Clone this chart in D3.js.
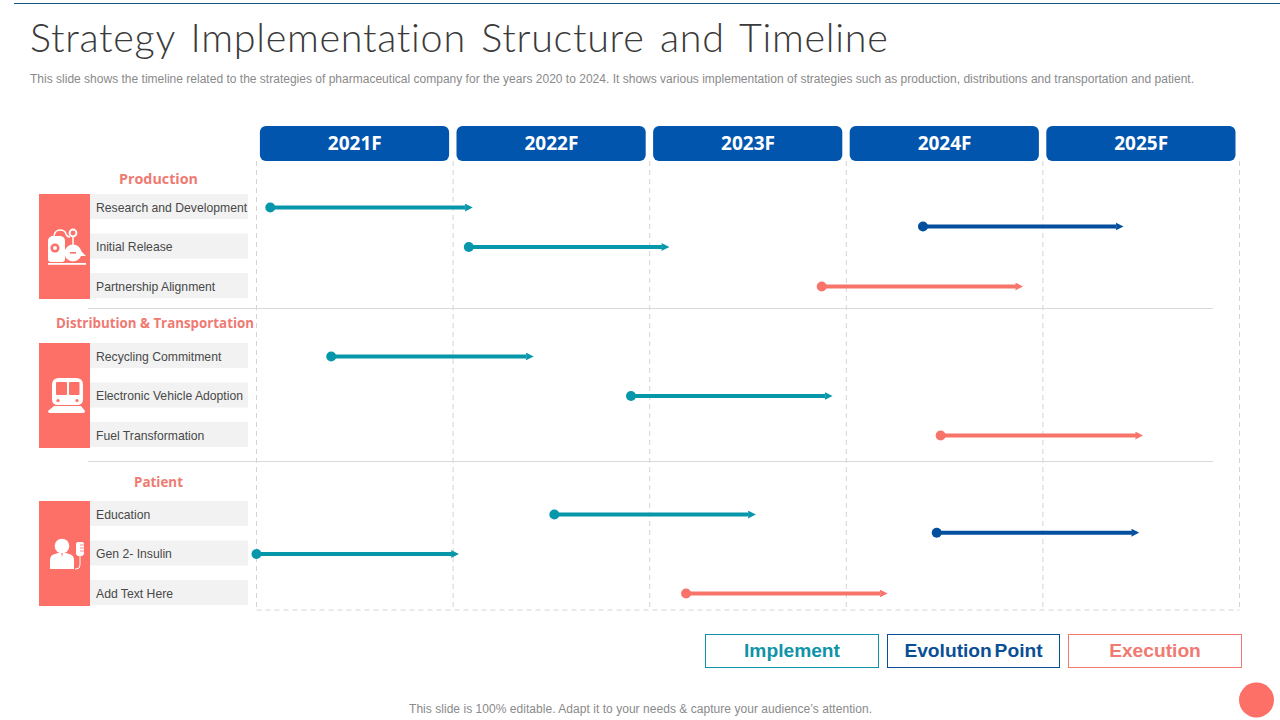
<!DOCTYPE html>
<html>
<head>
<meta charset="utf-8">
<script src="https://cdn.jsdelivr.net/npm/d3@7"></script>
<style>
  html, body { margin: 0; padding: 0; background: #fff; }
  svg { display: block; }
  text { font-family: "Liberation Sans", Arial, sans-serif; }
</style>
</head>
<body>
<div id="graph"></div>
<script>
var TITLE = "Strategy Implementation Structure and Timeline";
var SUBTITLE = "This slide shows the timeline related to the strategies of pharmaceutical company for the years 2020 to 2024. It shows various implementation of strategies such as production, distributions and transportation and patient.";
var FOOTER = "This slide is 100% editable. Adapt it to your needs & capture your audience\u2019s attention.";

var years = [2021, 2022, 2023, 2024, 2025];
var yearLabels = ["2021F", "2022F", "2023F", "2024F", "2025F"];

var groupNames = ["Production", "Distribution & Transportation", "Patient"];
var rowLabels = [
  ["Research and Development", "Initial Release", "Partnership Alignment"],
  ["Recycling Commitment", "Electronic Vehicle Adoption", "Fuel Transformation"],
  ["Education", "Gen 2- Insulin", "Add Text Here"]
];

// group, lane (0-2, .5 sits between two rows), start, end, type
var barGroup = [0, 0, 0, 0, 1, 1, 1, 2, 2, 2, 2];
var barLane  = [0, 1, 2, 0.48, 0, 1, 2, 0, 1, 2, 0.46];
var barStart = [2021.07, 2022.08, 2023.875, 2024.39, 2021.38, 2022.905, 2024.48, 2022.515, 2021.00, 2023.185, 2024.46];
var barEnd   = [2022.10, 2023.10, 2024.90, 2025.41, 2022.41, 2023.93, 2025.51, 2023.54, 2022.03, 2024.21, 2025.49];
var barType  = ["Implement", "Implement", "Execution", "Evolution Point", "Implement", "Implement", "Execution", "Implement", "Implement", "Execution", "Evolution Point"];

var legendLabels = ["Implement", "Evolution Point", "Execution"];
var legendColors = ["#0f93a8", "#0a4f96", "#f07a72"];

var CORAL = "#fd7068";
var SECTION = "#ef7a72";
var BLUE = "#0255ad";
var WIDTH = 1280, HEIGHT = 720;

var svg = d3.select("#graph").append("svg").attr("width", WIDTH).attr("height", HEIGHT);

var x = d3.scaleLinear().domain([2021, 2026]).range([256.5, 1239.5]);
var color = d3.scaleOrdinal().domain(legendLabels).range(["#0797ab", "#034f9e", "#f8746b"]);

// one lane scale per group, since the gaps differ a little
var laneScales = [
  d3.scaleLinear().domain([0, 2]).range([207.5, 286.5]),
  d3.scaleLinear().domain([0, 2]).range([356.5, 435.5]),
  d3.scaleLinear().domain([0, 2]).range([514.5, 593.5])
];
var blockTops = [194, 343, 501];
var blockH = 105;

/* header */
svg.append("rect").attr("x", 14).attr("y", 3).attr("width", 1266).attr("height", 1).attr("fill", "#13597f");

svg.append("text").attr("x", 30).attr("y", 52)
  .style("font-family", "Lato").style("font-weight", 300).style("font-size", "39.5px")
  .style("letter-spacing", "0.72px").style("word-spacing", "4px").attr("fill", "#3a3a3a").text(TITLE);

svg.append("text").attr("x", 30).attr("y", 83)
  .style("font-size", "12px").attr("fill", "#8a8a8a")
  .attr("textLength", 1164).attr("lengthAdjust", "spacing").text(SUBTITLE);

/* grid */
var gridTop = 161, gridBottom = 610;
var grid = svg.append("g").attr("stroke", "#d4d4d4").attr("stroke-dasharray", "5 4").attr("fill", "none");
grid.selectAll("line.v").data(years.concat([2026])).enter().append("line")
  .attr("class", "v")
  .attr("x1", function(d){ return x(d); }).attr("x2", function(d){ return x(d); })
  .attr("y1", gridTop).attr("y2", gridBottom);
grid.append("line").attr("x1", x(2021)).attr("x2", x(2026)).attr("y1", gridBottom).attr("y2", gridBottom);

/* group separators */
svg.selectAll("line.sep").data([308.5, 461.5]).enter().append("line")
  .attr("class", "sep").attr("x1", 88).attr("x2", 1213)
  .attr("y1", function(d){ return d; }).attr("y2", function(d){ return d; })
  .attr("stroke", "#d9d9d9");

/* year pills */
var pills = svg.selectAll("g.year").data(years).enter().append("g").attr("class", "year");
pills.append("rect")
  .attr("x", function(d){ return x(d) + 3.4; })
  .attr("y", 126)
  .attr("width", function(d){ return x(d + 1) - x(d) - 7.4; })
  .attr("height", 35).attr("rx", 6).attr("fill", BLUE);
pills.append("text")
  .attr("x", function(d){ return (x(d) + x(d + 1)) / 2; })
  .attr("y", 150).attr("text-anchor", "middle").attr("fill", "#fff")
  .style("font-family", "'Open Sans'").style("font-weight", 700).style("font-size", "19px")
  .text(function(d, i){ return yearLabels[i]; });

/* left hand groups */
var sectionWidths = [79, 198, 49];
var sectionOffsets = [10.5, 15.5, 14.5];
var groups = svg.selectAll("g.group").data(groupNames).enter().append("g").attr("class", "group");
groups.append("rect")
  .attr("x", 39).attr("y", function(d, i){ return blockTops[i]; })
  .attr("width", 51).attr("height", blockH).attr("fill", CORAL);
groups.append("text")
  .attr("x", function(d, i){ return i == 1 ? 155 : 158.5; })
  .attr("y", function(d, i){ return blockTops[i] - sectionOffsets[i]; })
  .attr("text-anchor", "middle").attr("fill", SECTION)
  .attr("textLength", function(d, i){ return sectionWidths[i]; })
  .attr("lengthAdjust", "spacingAndGlyphs")
  .style("font-family", "'Open Sans'").style("font-weight", 700).style("font-size", "14.5px")
  .text(function(d){ return d; });

groups.each(function(name, g){
  var rows = d3.select(this).selectAll("g.row").data(rowLabels[g]).enter().append("g").attr("class", "row");
  rows.append("rect").attr("x", 90).attr("width", 158).attr("height", 25)
    .attr("y", function(d, i){ return laneScales[g](i) - 13.5; })
    .attr("fill", "#f2f2f2");
  rows.append("text").attr("x", 96)
    .attr("y", function(d, i){ return laneScales[g](i) + 4; })
    .attr("fill", "#484848").style("font-size", "12.2px")
    .text(function(d){ return d; });
});

/* icons, white line art on the coral blocks */
function drawProductionIcon(g){
  g.append("path").attr("fill", "#fff").attr("d", "M48 241 q0 -4 4 -5 h9 q4 1 4 5 v18 q0 3 -3 3 h-11 q-3 0 -3 -3 z");
  g.append("circle").attr("cx", 55).attr("cy", 248).attr("r", 4.5).attr("fill", CORAL);
  g.append("circle").attr("cx", 55).attr("cy", 248).attr("r", 2).attr("fill", "#fff");
  g.append("circle").attr("cx", 73).attr("cy", 253).attr("r", 8.5).attr("fill", "#fff");
  g.append("rect").attr("x", 70).attr("y", 252).attr("width", 6).attr("height", 1.6).attr("fill", CORAL);
  g.append("path").attr("fill", "none").attr("stroke", "#fff").attr("stroke-width", 1.5)
    .attr("d", "M54 236 q1 -6 6 -6 q5 0 6 4 q1 3 4 3 M73 237 v8");
  g.append("circle").attr("cx", 73).attr("cy", 233).attr("r", 3.4).attr("fill", "none").attr("stroke", "#fff").attr("stroke-width", 2);
  g.append("path").attr("fill", "#fff").attr("d", "M81 251 l5 5 h-5 z");
  g.append("rect").attr("x", 48).attr("y", 263).attr("width", 38).attr("height", 1.8).attr("fill", "#fff");
}
function drawTrainIcon(g){
  g.append("path").attr("fill", "#fff").attr("d", "M59 378 h17 q7 0 7 7 v14 q0 6 -6 6 h-19 q-6 0 -6 -6 v-14 q0 -7 7 -7 z");
  g.append("rect").attr("x", 56).attr("y", 382).attr("width", 11).attr("height", 13).attr("rx", 1).attr("fill", CORAL);
  g.append("rect").attr("x", 69).attr("y", 382).attr("width", 10.5).attr("height", 13).attr("rx", 1).attr("fill", CORAL);
  g.append("circle").attr("cx", 58).attr("cy", 400.5).attr("r", 1.6).attr("fill", CORAL);
  g.append("circle").attr("cx", 77).attr("cy", 400.5).attr("r", 1.6).attr("fill", CORAL);
  g.append("path").attr("fill", "#fff").attr("d", "M54 406 h27 l4 5 q0 2 -2 2 h-33 q-2 0 -2 -2 z");
}
function drawPatientIcon(g){
  g.append("circle").attr("cx", 62).attr("cy", 546).attr("r", 7.3).attr("fill", "#fff");
  g.append("path").attr("fill", "#fff").attr("d", "M50 569 v-9 q0 -5 5 -6 l6 -2 l1 5 l1 -5 l6 2 q5 1 5 6 v9 z");
  g.append("path").attr("fill", "#fff").attr("d", "M78 542 h4 q2 0 2 2 v9 q0 3 -3 3 h-2 q-3 0 -3 -3 v-9 q0 -2 2 -2 z");
  g.append("path").attr("fill", "none").attr("stroke", CORAL).attr("stroke-width", 0.8)
    .attr("d", "M80 545 h4 M80 548 h4 M80 551 h4");
  g.append("path").attr("fill", "none").attr("stroke", "#fff").attr("stroke-width", 1)
    .attr("d", "M80 556 v9 q0 4 -4 4 h-1");
}
drawProductionIcon(svg.append("g"));
drawTrainIcon(svg.append("g"));
drawPatientIcon(svg.append("g"));

/* timeline arrows */
var defs = svg.append("defs");
legendLabels.forEach(function(t, i){
  defs.append("marker").attr("id", "arrow" + i)
    .attr("viewBox", "0 0 8 8").attr("refX", 1).attr("refY", 4)
    .attr("markerWidth", 8).attr("markerHeight", 8).attr("markerUnits", "userSpaceOnUse").attr("orient", "auto")
    .append("path").attr("d", "M0 0 L8 4 L0 8 L1 4 z").attr("fill", color(t));
});

var bars = svg.selectAll("g.bar").data(barStart).enter().append("g").attr("class", "bar");
function barY(i){ return laneScales[barGroup[i]](barLane[i]); }
bars.append("line")
  .attr("x1", function(d){ return x(d); })
  .attr("x2", function(d, i){ return x(barEnd[i]) - 7; })
  .attr("y1", function(d, i){ return barY(i); })
  .attr("y2", function(d, i){ return barY(i); })
  .attr("stroke", function(d, i){ return color(barType[i]); })
  .attr("stroke-width", 4)
  .attr("marker-end", function(d, i){ return "url(#arrow" + legendLabels.indexOf(barType[i]) + ")"; });
bars.append("circle")
  .attr("cx", function(d){ return x(d); })
  .attr("cy", function(d, i){ return barY(i); })
  .attr("r", 5)
  .attr("fill", function(d, i){ return color(barType[i]); });

/* legend */
var legendX = [705.5, 887.5, 1068.5];
var legendW = [173, 172, 173];
var legend = svg.selectAll("g.legend").data(legendLabels).enter().append("g").attr("class", "legend");
legend.append("rect")
  .attr("x", function(d, i){ return legendX[i]; }).attr("y", 634.5)
  .attr("width", function(d, i){ return legendW[i]; }).attr("height", 33)
  .attr("fill", "#fff")
  .attr("stroke", function(d, i){ return legendColors[i]; });
legend.append("text")
  .attr("x", function(d, i){ return legendX[i] + legendW[i] / 2; }).attr("y", 657)
  .attr("text-anchor", "middle")
  .attr("fill", function(d, i){ return legendColors[i]; })
  .style("font-weight", 700).style("font-size", "19.2px").style("word-spacing", "-2.5px")
  .text(function(d){ return d; });

/* footer */
svg.append("text").attr("x", 640.5).attr("y", 713).attr("text-anchor", "middle")
  .attr("textLength", 463).attr("lengthAdjust", "spacing")
  .attr("fill", "#8a8a8a").style("font-size", "12px").text(FOOTER);
svg.append("circle").attr("cx", 1256.5).attr("cy", 700).attr("r", 17.5).attr("fill", CORAL);
</script>
</body>
</html>
